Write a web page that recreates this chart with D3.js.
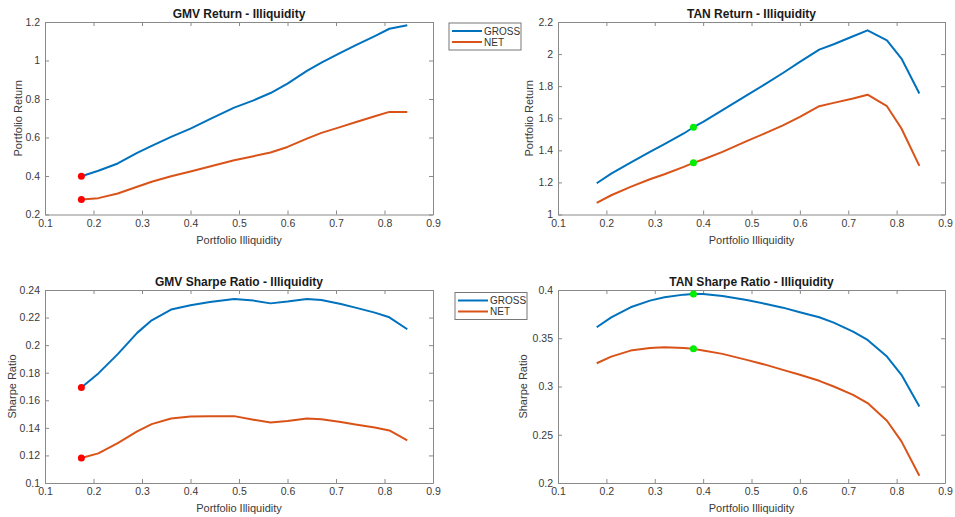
<!DOCTYPE html>
<html><head><meta charset="utf-8">
<script src="https://cdn.jsdelivr.net/npm/d3@7"></script>
<style>
body{margin:0;background:#fff;}
text{font-family:"Liberation Sans",Arial,Helvetica,sans-serif;}
</style></head>
<body><svg id="c" width="955" height="517"></svg>
<script>
// ---- data ----
const seriesNames = ["GROSS", "NET"];
const gmvX = [0.175,0.21,0.25,0.29,0.32,0.36,0.40,0.44,0.49,0.53,0.565,0.60,0.64,0.67,0.71,0.74,0.78,0.81,0.847];
const tanX = [0.18,0.21,0.25,0.29,0.32,0.36,0.38,0.40,0.44,0.49,0.53,0.565,0.60,0.64,0.67,0.71,0.74,0.78,0.81,0.847];

const gmvRetGross = [0.399,0.427,0.465,0.52,0.556,0.603,0.646,0.695,0.755,0.793,0.831,0.88,0.946,0.989,1.041,1.079,1.127,1.165,1.183];
const gmvRetNet   = [0.278,0.285,0.309,0.344,0.370,0.399,0.423,0.449,0.482,0.503,0.522,0.551,0.594,0.624,0.655,0.679,0.710,0.733,0.733];

const tanRetGross = [1.195,1.255,1.324,1.390,1.438,1.505,1.544,1.577,1.650,1.743,1.816,1.882,1.951,2.028,2.061,2.111,2.148,2.086,1.972,1.754];
const tanRetNet   = [1.073,1.120,1.172,1.220,1.251,1.297,1.322,1.343,1.390,1.457,1.509,1.556,1.608,1.675,1.696,1.723,1.747,1.675,1.536,1.303];

const gmvSrGross = [0.1693,0.1795,0.1935,0.2089,0.2180,0.2258,0.2290,0.2313,0.2335,0.2323,0.2303,0.2316,0.2335,0.2328,0.2299,0.2272,0.2236,0.2202,0.2115];
const gmvSrNet   = [0.1181,0.1215,0.1290,0.1375,0.1427,0.1468,0.1483,0.1485,0.1485,0.1459,0.1439,0.1449,0.1468,0.1463,0.1442,0.1425,0.1403,0.1381,0.1309];

const tanSrGross = [0.3614,0.3717,0.3821,0.389,0.3924,0.3952,0.3959,0.3959,0.3938,0.3897,0.3855,0.3817,0.3769,0.3717,0.3662,0.3569,0.3483,0.331,0.3121,0.2793];
const tanSrNet   = [0.3241,0.331,0.3372,0.34,0.3407,0.34,0.339,0.3372,0.3338,0.3276,0.3224,0.3172,0.3121,0.3059,0.3,0.2914,0.2828,0.2645,0.2431,0.2076];

const xTicks = [0.1,0.2,0.3,0.4,0.5,0.6,0.7,0.8,0.9];
const yTicksGmvRet = [0.2,0.4,0.6,0.8,1,1.2];
const yTicksTanRet = [1,1.2,1.4,1.6,1.8,2,2.2];
const yTicksGmvSr  = [0.1,0.12,0.14,0.16,0.18,0.2,0.22,0.24];
const yTicksTanSr  = [0.2,0.25,0.3,0.35,0.4];

const titles = ["GMV Return - Illiquidity","TAN Return - Illiquidity","GMV Sharpe Ratio - Illiquidity","TAN Sharpe Ratio - Illiquidity"];
const xLabel = "Portfolio Illiquidity";
const yLabels = ["Portfolio Return","Portfolio Return","Sharpe Ratio","Sharpe Ratio"];

// ---- layout / style ----
const colors = ["#0072BD","#D95319"];
const svg = d3.select("#c");

const panels = [
  {rect:[45,433,22,214.5], x:gmvX, ys:[gmvRetGross,gmvRetNet], yTicks:yTicksGmvRet, title:titles[0], yLabel:yLabels[0], ylx:18, mark:{idx:0,color:"#ff0000"}},
  {rect:[558,945,22,214.5], x:tanX, ys:[tanRetGross,tanRetNet], yTicks:yTicksTanRet, title:titles[1], yLabel:yLabels[1], ylx:529, mark:{idx:6,color:"#00ee00"}},
  {rect:[45,433,290,483], x:gmvX, ys:[gmvSrGross,gmvSrNet], yTicks:yTicksGmvSr, title:titles[2], yLabel:yLabels[2], ylx:12, mark:{idx:0,color:"#ff0000"}},
  {rect:[558,945,290,483], x:tanX, ys:[tanSrGross,tanSrNet], yTicks:yTicksTanSr, title:titles[3], yLabel:yLabels[3], ylx:523, mark:{idx:6,color:"#00ee00"}}
];

const fmt = d => String(+d.toFixed(3));

panels.forEach(p => {
  const [l,r,t,b] = p.rect;
  const xs = d3.scaleLinear().domain([0.1,0.9]).range([l,r]);
  const ys = d3.scaleLinear().domain(d3.extent(p.yTicks)).range([b,t]);
  const g = svg.append("g");

  const ax = g.append("g").attr("transform",`translate(0,${b})`)
    .call(d3.axisBottom(xs).tickValues(xTicks).tickFormat(fmt).tickSizeInner(-4).tickSizeOuter(0).tickPadding(5));
  const ay = g.append("g").attr("transform",`translate(${l},0)`)
    .call(d3.axisLeft(ys).tickValues(p.yTicks).tickFormat(fmt).tickSizeInner(-4).tickSizeOuter(0).tickPadding(5));
  const axT = g.append("g").attr("transform",`translate(0,${t})`)
    .call(d3.axisTop(xs).tickValues(xTicks).tickFormat("").tickSizeInner(-4).tickSizeOuter(0));
  const ayR = g.append("g").attr("transform",`translate(${r},0)`)
    .call(d3.axisRight(ys).tickValues(p.yTicks).tickFormat("").tickSizeInner(-4).tickSizeOuter(0));
  [ax,ay,axT,ayR].forEach(a => {
    a.selectAll("path.domain").attr("stroke","#8a8a8a").attr("stroke-width",1);
    a.selectAll(".tick line").attr("stroke","#8a8a8a");
    a.selectAll("text").attr("fill","#3a3a3a").style("font-size","10.5px");
  });

  p.ys.forEach((vals,i) => {
    const line = d3.line().x((d,j)=>xs(p.x[j])).y(d=>ys(d));
    g.append("path").datum(vals).attr("d",line).attr("fill","none")
      .attr("stroke",colors[i]).attr("stroke-width",2).attr("stroke-linejoin","round");
  });
  p.ys.forEach(vals => {
    g.append("circle").attr("cx",xs(p.x[p.mark.idx])).attr("cy",ys(vals[p.mark.idx]))
      .attr("r",3.5).attr("fill",p.mark.color);
  });

  g.append("text").attr("x",(l+r)/2).attr("y",t-4).attr("text-anchor","middle")
    .style("font-size","12px").style("font-weight","bold").attr("fill","#1a1a1a").text(p.title);
  g.append("text").attr("x",(l+r)/2).attr("y",b+29).attr("text-anchor","middle")
    .style("font-size","11px").attr("fill","#3a3a3a").text(xLabel);
  g.append("text").attr("transform",`translate(${p.ylx},${(t+b)/2}) rotate(-90)`)
    .attr("text-anchor","middle").attr("dy","0.35em")
    .style("font-size","11px").attr("fill","#3a3a3a").text(p.yLabel);
});

const legends = [{x:449,y:23,w:72,h:27},{x:455,y:292.5,w:72,h:27}];
legends.forEach(L => {
  const g = svg.append("g");
  g.append("rect").attr("x",L.x).attr("y",L.y).attr("width",L.w).attr("height",L.h)
    .attr("fill","#fff").attr("stroke","#777").attr("stroke-width",1);
  seriesNames.forEach((n,i) => {
    const cy = L.y + 8 + i*11;
    g.append("line").attr("x1",L.x+3).attr("x2",L.x+33).attr("y1",cy).attr("y2",cy)
      .attr("stroke",colors[i]).attr("stroke-width",2);
    g.append("text").attr("x",L.x+35).attr("y",cy).attr("dy","0.35em")
      .style("font-size","10px").attr("fill","#333").text(n);
  });
});
</script></body></html>
